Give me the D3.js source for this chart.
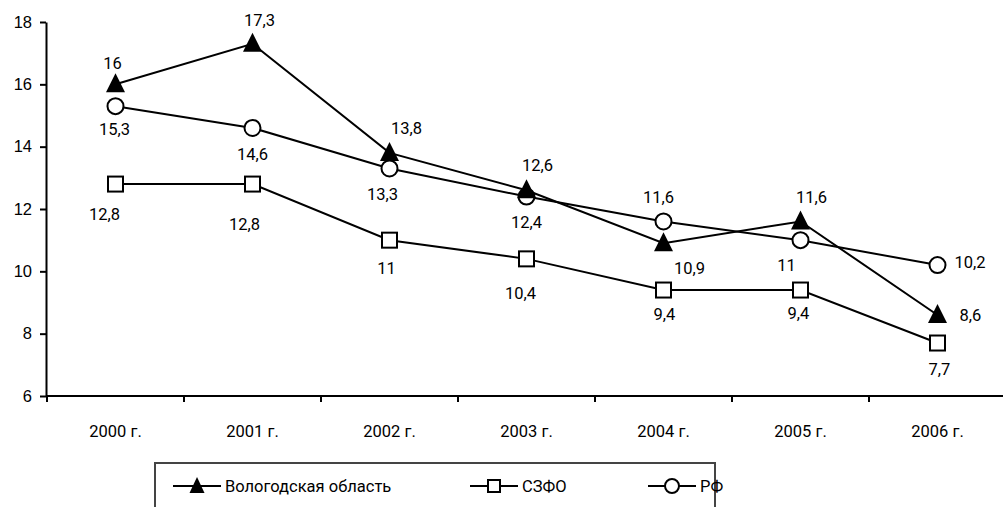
<!DOCTYPE html>
<html>
<head>
<meta charset="utf-8">
<style>
  body { margin: 0; background: #fff; }
  svg { display: block; font-family: Roboto, "Open Sans", sans-serif; }
  .axis path, .axis line { stroke: #000; stroke-width: 2; fill: none; }
  .axis text { font-size: 16.5px; fill: #000; }
  .series { fill: none; stroke: #000; stroke-width: 2; }
  .lbl { font-size: 16.5px; fill: #000; text-anchor: middle; }
  .legend text { font-size: 16.5px; fill: #000; }
</style>
</head>
<body>
<div id="chart"></div>
<script src="https://d3js.org/d3.v7.min.js"></script>
<script>
// data
var years = ["2000 г.", "2001 г.", "2002 г.", "2003 г.", "2004 г.", "2005 г.", "2006 г."];
var vologda = [16, 17.3, 13.8, 12.6, 10.9, 11.6, 8.6];
var szfo = [12.8, 12.8, 11, 10.4, 9.4, 9.4, 7.7];
var rf = [15.3, 14.6, 13.3, 12.4, 11.6, 11, 10.2];
var yTicks = [6, 8, 10, 12, 14, 16, 18];
var seriesNames = ["Вологодская область", "СЗФО", "РФ"];

// label placement (dx, dy from point)
var vologdaPos = [[-3,-21],[7,-24],[17,-25],[11,-25],[26,25],[11,-24],[22,0,"start"]];
var szfoPos = [[-11,30],[-8,40],[-3,28],[-6,34],[1,24],[-2,23],[2,26]];
var rfPos = [[-1,23],[0,26],[-7,26],[0,26],[-5,-24],[-14,25],[17,-3,"start"]];

var W = 1003, H = 507;
var svg = d3.select("#chart").append("svg").attr("width", W).attr("height", H);

var x = d3.scaleBand().domain(years).range([47, 1006]);
var y = d3.scaleLinear().domain([6, 18]).range([396, 22]);
var cx = function(i) { return x(years[i]) + x.bandwidth() / 2; };

// y axis
svg.append("g").attr("class", "axis")
  .attr("transform", "translate(46,0)")
  .call(d3.axisLeft(y).tickValues(yTicks).tickSize(6).tickSizeOuter(0).tickPadding(8).tickFormat(d3.format("d")));

// x axis with ticks at category boundaries
var xg = svg.append("g").attr("class", "axis").attr("transform", "translate(0,396)");
xg.append("line").attr("x1", 46).attr("x2", 1006);
xg.selectAll(".tk").data(years).enter().append("line")
  .attr("x1", function(d) { return x(d); }).attr("x2", function(d) { return x(d); })
  .attr("y1", 0).attr("y2", 6);
xg.selectAll(".xl").data(years).enter().append("text")
  .attr("x", function(d) { return x(d) + x.bandwidth() / 2; })
  .attr("y", 41).attr("text-anchor", "middle")
  .text(function(d) { return d; });

var line = d3.line().x(function(d, i) { return cx(i); }).y(function(d) { return y(d); });

function tri(g, px, py) {
  g.append("path").attr("d", "M" + px + "," + (py - 11) + "L" + (px + 9.5) + "," + (py + 8) + "L" + (px - 9.5) + "," + (py + 8) + "Z")
    .attr("fill", "#000");
}
function sq(g, px, py) {
  g.append("rect").attr("x", px - 7.5).attr("y", py - 7.5).attr("width", 15).attr("height", 15)
    .attr("fill", "#fff").attr("stroke", "#000").attr("stroke-width", 2);
}
function circ(g, px, py) {
  g.append("circle").attr("cx", px).attr("cy", py).attr("r", 8)
    .attr("fill", "#fff").attr("stroke", "#000").attr("stroke-width", 2);
}

var series = [
  { vals: szfo, mark: sq, pos: szfoPos },
  { vals: rf, mark: circ, pos: rfPos },
  { vals: vologda, mark: tri, pos: vologdaPos }
];

series.forEach(function(s) {
  svg.append("path").datum(s.vals).attr("class", "series").attr("d", line);
});
series.forEach(function(s) {
  var g = svg.append("g");
  s.vals.forEach(function(v, i) { s.mark(g, cx(i), y(v)); });
  s.vals.forEach(function(v, i) {
    var p = s.pos[i];
    g.append("text").attr("class", "lbl")
      .attr("x", cx(i) + p[0]).attr("y", y(v) + p[1])
      .attr("dy", "0.35em")
      .style("text-anchor", p[2] || "middle")
      .text(String(v).replace(".", ","));
  });
});

// legend
var lg = svg.append("g").attr("class", "legend");
lg.append("rect").attr("x", 155).attr("y", 463).attr("width", 560).attr("height", 60)
  .attr("fill", "#fff").attr("stroke", "#444").attr("stroke-width", 2);
var legX = [173, 470, 648];
seriesNames.forEach(function(n, i) {
  var ly = 486;
  lg.append("line").attr("x1", legX[i]).attr("x2", legX[i] + 48).attr("y1", ly).attr("y2", ly)
    .attr("stroke", "#000").attr("stroke-width", 2);
  var mg = lg.append("g");
  if (i === 0) {
    mg.append("path").attr("d", "M" + (legX[i] + 24) + "," + (ly - 9) + "L" + (legX[i] + 31.5) + "," + (ly + 7) + "L" + (legX[i] + 16.5) + "," + (ly + 7) + "Z").attr("fill", "#000");
  } else if (i === 1) {
    mg.append("rect").attr("x", legX[i] + 18).attr("y", ly - 6).attr("width", 12).attr("height", 12)
      .attr("fill", "#fff").attr("stroke", "#000").attr("stroke-width", 2);
  } else {
    mg.append("circle").attr("cx", legX[i] + 24).attr("cy", ly).attr("r", 7)
      .attr("fill", "#fff").attr("stroke", "#000").attr("stroke-width", 2);
  }
  lg.append("text").attr("x", legX[i] + 52).attr("y", ly).attr("dy", "0.35em").text(n);
});
</script>
</body>
</html>
